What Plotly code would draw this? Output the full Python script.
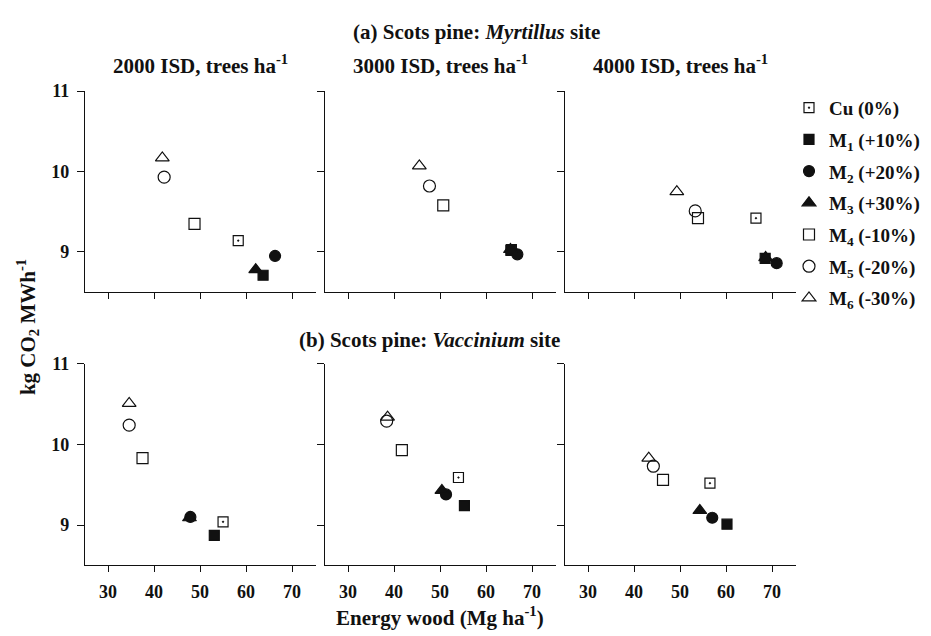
import plotly.graph_objects as go

# ---- data (panel order: Myrtillus 2000, 3000, 4000; Vaccinium 2000, 3000, 4000) ----
scenario_names = ["Cu (0%)", "M<sub>1</sub> (+10%)", "M<sub>2</sub> (+20%)", "M<sub>3</sub> (+30%)",
                  "M<sub>4</sub> (-10%)", "M<sub>5</sub> (-20%)", "M<sub>6</sub> (-30%)"]
cu_x = [58.3, 65.5, 66.5, 55.0, 54.0, 56.5]
cu_y = [9.14, 9.03, 9.42, 9.04, 9.59, 9.52]
m1_x = [63.7, 65.4, 68.5, 53.1, 55.3, 60.2]
m1_y = [8.71, 9.02, 8.92, 8.87, 9.24, 9.01]
m2_x = [66.3, 66.8, 71.0, 47.9, 51.3, 57.0]
m2_y = [8.95, 8.97, 8.86, 9.10, 9.38, 9.09]
m3_x = [62.1, 65.3, 68.6, 47.7, 50.4, 54.3]
m3_y = [8.78, 9.03, 8.93, 9.09, 9.43, 9.18]
m4_x = [48.8, 50.7, 53.9, 37.5, 41.7, 46.3]
m4_y = [9.35, 9.58, 9.42, 9.83, 9.93, 9.56]
m5_x = [42.2, 47.7, 53.3, 34.6, 38.4, 44.2]
m5_y = [9.93, 9.82, 9.51, 10.24, 10.29, 9.73]
m6_x = [41.8, 45.5, 49.3, 34.6, 38.6, 43.2]
m6_y = [10.17, 10.07, 9.75, 10.51, 10.34, 9.83]

column_titles = ["2000 ISD, trees ha<sup>-1</sup>", "3000 ISD, trees ha<sup>-1</sup>", "4000 ISD, trees ha<sup>-1</sup>"]
x_ticks = [30, 40, 50, 60, 70]
y_ticks = [9, 10, 11]

series_x = [cu_x, m1_x, m2_x, m3_x, m4_x, m5_x, m6_x]
series_y = [cu_y, m1_y, m2_y, m3_y, m4_y, m5_y, m6_y]
symbols = ["square-open-dot", "square", "circle", "triangle-up", "square-open", "circle-open", "triangle-up-open"]
sizes = [10, 10, 11, 12, 11, 12, 12]

W, H = 931, 636
OFF = 8  # default page body margin in the written html
FONT = "Liberation Serif"
INK = "#111111"


def fx(px):
    return (px - OFF) / W


def fy(py):
    return 1 - (py - OFF) / H


# target pixel layout in the screenshot
col_px = [(85, 316), (325, 556), (565, 796)]
row_px = [(82.3, 286.5), (359.5, 564.0)]

fig = go.Figure()

for s in range(7):
    for p in range(6):
        idx = "" if p == 0 else str(p + 1)
        fig.add_trace(go.Scatter(
            x=[series_x[s][p]], y=[series_y[s][p]],
            mode="markers",
            xaxis="x" + idx, yaxis="y" + idx,
            name=scenario_names[s],
            legendgroup="g%d" % s,
            showlegend=(p == 0),
            marker=dict(symbol=symbols[s], size=sizes[s], color=INK,
                        line=dict(color=INK, width=1.2)),
        ))

layout = dict(
    width=W, height=H,
    margin=dict(l=0, r=0, t=0, b=0),
    paper_bgcolor="white", plot_bgcolor="white",
    font=dict(family=FONT, color=INK, size=18),
    showlegend=True,
    legend=dict(x=fx(789), y=fy(80), xanchor="left", yanchor="top",
                font=dict(family=FONT, size=19, weight="bold"),
                tracegroupgap=4, bgcolor="rgba(0,0,0,0)", itemwidth=30),
)

for p in range(6):
    r, c = divmod(p, 3)
    idx = "" if p == 0 else str(p + 1)
    x0, x1 = col_px[c]
    y0, y1 = row_px[r]
    layout["xaxis" + idx] = dict(
        domain=[fx(x0), fx(x1)], range=[25, 75.2], anchor="y" + idx,
        showline=True, linecolor=INK, linewidth=1.3, ticks="outside", ticklen=6,
        tickwidth=1.2, tickcolor=INK, tickvals=x_ticks, showgrid=False, zeroline=False,
        showticklabels=(r == 1), ticklabelstandoff=4,
        tickfont=dict(family=FONT, size=18, weight="bold"),
    )
    layout["yaxis" + idx] = dict(
        domain=[fy(y1), fy(y0)], range=[8.5, 11], anchor="x" + idx,
        showline=True, linecolor=INK, linewidth=1.3, ticks="outside", ticklen=7,
        tickwidth=1.2, tickcolor=INK, tickvals=y_ticks, showgrid=False, zeroline=False,
        showticklabels=(c == 0), ticklabelstandoff=4,
        tickfont=dict(family=FONT, size=18, weight="bold"),
    )

annotations = []
tfont = dict(family=FONT, size=21, color=INK, weight="bold")
annotations.append(dict(text="(a) Scots pine: <i>Myrtillus</i> site", x=fx(351), y=fy(22),
                        xref="paper", yref="paper", xanchor="left", yanchor="middle",
                        showarrow=False, font=tfont))
annotations.append(dict(text="(b) Scots pine: <i>Vaccinium</i> site", x=fx(297), y=fy(335),
                        xref="paper", yref="paper", xanchor="left", yanchor="middle",
                        showarrow=False, font=tfont))
for c in range(3):
    x0, x1 = col_px[c]
    annotations.append(dict(text=column_titles[c], x=fx((x0 + x1) / 2), y=fy(55),
                            xref="paper", yref="paper", xanchor="center", yanchor="middle",
                            showarrow=False, font=tfont))
annotations.append(dict(text="Energy wood (Mg ha<sup>-1</sup>)", x=fx(440), y=fy(632),
                        xref="paper", yref="paper", xanchor="center", yanchor="bottom",
                        showarrow=False, font=tfont))
annotations.append(dict(text="kg CO<sub>2</sub> MWh<sup>-1</sup>", x=fx(27), y=fy(322),
                        xref="paper", yref="paper", xanchor="center", yanchor="middle",
                        textangle=-90, showarrow=False, font=tfont))
layout["annotations"] = annotations

fig.update_layout(**layout)
fig.write_html("out.html")
